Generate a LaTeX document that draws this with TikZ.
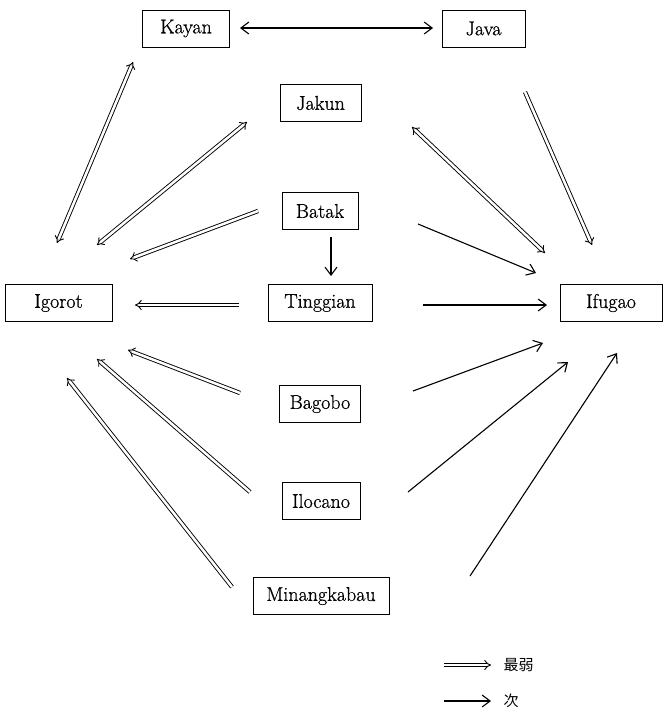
\documentclass[tikz,border=0pt]{standalone}
\usepackage{fontspec}
\newfontfamily\cjk{Noto Sans CJK JP}
\newfontfamily\labelfont{Latin Modern Roman}[RawFeature={embolden=0.8}]
\usetikzlibrary{arrows.meta}
\begin{document}
\begin{tikzpicture}[x=1pt,y=-1pt,
  lang/.style={draw, line width=1pt, minimum height=37pt, inner sep=0pt,
    font=\labelfont\fontsize{20}{23}\selectfont},
  weak/.style={double, double distance=2.5pt, line width=0.9pt, -{Implies[scale=1.2]}},
  weakboth/.style={weak, {Implies[scale=1.2]}-{Implies[scale=1.2]}},
  next/.style={line width=1.1pt, -{Straight Barb[length=8pt,width=12pt]}},
  nextboth/.style={next, {Straight Barb[length=8pt,width=12pt]}-{Straight Barb[length=8pt,width=12pt]}}]
\useasboundingbox (0,0) rectangle (664,718);

% language boxes
\node[lang, minimum width=87pt]  (kayan)  at (186,28.5)  {Kayan};
\node[lang, minimum width=83pt]  (java)   at (483.5,28.5){Java};
\node[lang, minimum width=81pt]  (jakun)  at (320.5,103) {Jakun};
\node[lang, minimum width=76pt]  (batak)  at (320,211)   {Batak};
\node[lang, minimum width=107pt] (igorot) at (58.5,303)  {Igorot};
\node[lang, minimum width=104pt] (ting)   at (320,303)   {Tinggian};
\node[lang, minimum width=102pt] (ifugao) at (611,303)   {Ifugao};
\node[lang, minimum width=81pt]  (bagobo) at (320,404)   {Bagobo};
\node[lang, minimum width=78pt]  (iloc)   at (321,501)   {Ilocano};
\node[lang, minimum width=136pt] (minang) at (321,596)   {Minangkabau};

% connector end points
\coordinate (kaR) at (240,28);   \coordinate (jaL) at (433,28);
\coordinate (kaD) at (133,62);   \coordinate (igK) at (57,243);
\coordinate (jkL) at (247,122);  \coordinate (igJ) at (97,245);
\coordinate (btL) at (258,211);  \coordinate (igB) at (130,259);
\coordinate (btD) at (331,237);  \coordinate (tgU) at (331,276);
\coordinate (tgL) at (239,305);  \coordinate (igT) at (135,305);
\coordinate (tgR) at (423,305);  \coordinate (ifT) at (547,305);
\coordinate (btR) at (418,224);  \coordinate (ifB) at (536,273);
\coordinate (jkR) at (412,127);  \coordinate (ifJ) at (545,253);
\coordinate (jvD) at (525,92);   \coordinate (ifV) at (592,245);
\coordinate (bgL) at (240,393);  \coordinate (igG) at (128,350);
\coordinate (ilL) at (250,492);  \coordinate (igL) at (97,359);
\coordinate (mnL) at (232,587);  \coordinate (igM) at (67,378);
\coordinate (bgR) at (413,391);  \coordinate (ifG) at (543,343);
\coordinate (ilR) at (408,492);  \coordinate (ifL) at (568,362);
\coordinate (mnR) at (470,576);  \coordinate (ifM) at (617,353);

% relations
\draw[nextboth] (kaR) -- (jaL);
\draw[weakboth] (kaD) -- (igK);
\draw[weakboth] (jkL) -- (igJ);
\draw[weak] (btL) -- (igB);
\draw[next] (btD) -- (tgU);
\draw[weak] (tgL) -- (igT);
\draw[next] (tgR) -- (ifT);
\draw[next] (btR) -- (ifB);
\draw[weakboth] (jkR) -- (ifJ);
\draw[weak] (jvD) -- (ifV);
\draw[weak] (bgL) -- (igG);
\draw[weak] (ilL) -- (igL);
\draw[weak] (mnL) -- (igM);
\draw[next] (bgR) -- (ifG);
\draw[next] (ilR) -- (ifL);
\draw[next] (mnR) -- (ifM);

% legend
\coordinate (lg1a) at (444,665); \coordinate (lg1b) at (491,665);
\coordinate (lg2a) at (444,701); \coordinate (lg2b) at (491,701);
\draw[weak] (lg1a) -- (lg1b);
\draw[next] (lg2a) -- (lg2b);
\node[anchor=west, font=\cjk\fontsize{15}{17}\selectfont] (lgw) at (500,665) {最弱};
\node[anchor=west, font=\cjk\fontsize{15}{17}\selectfont] (lgn) at (500,701) {次};
\end{tikzpicture}
\end{document}
